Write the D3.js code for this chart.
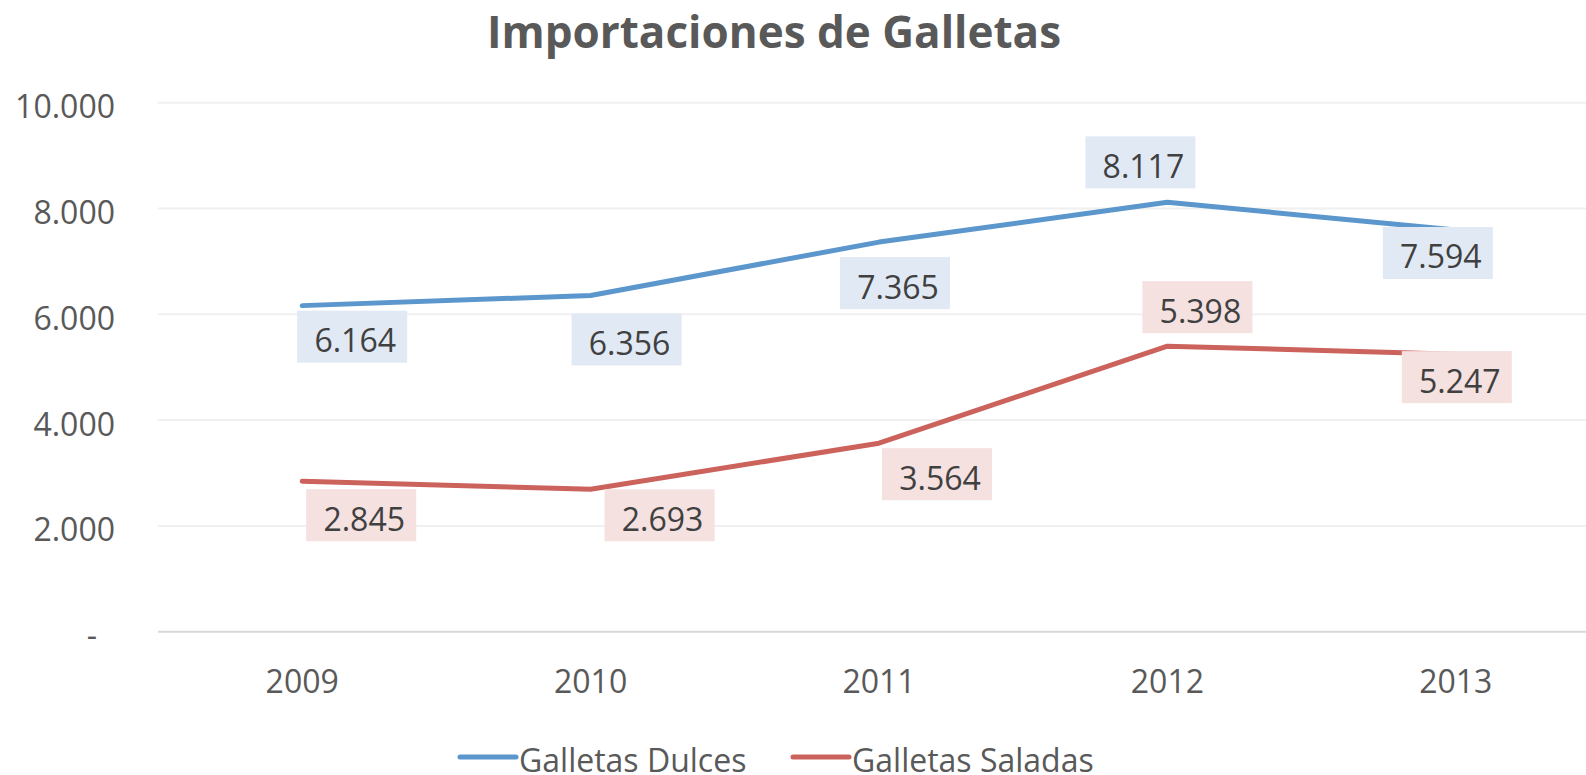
<!DOCTYPE html>
<html>
<head>
<meta charset="utf-8">
<script src="https://cdn.jsdelivr.net/npm/d3@7"></script>
<style>
  body { margin: 0; background: #fff; }
  text { font-family: "Open Sans", sans-serif; }
</style>
</head>
<body>
<script>
// data
var years = ["2009", "2010", "2011", "2012", "2013"];
var dulces = [6164, 6356, 7365, 8117, 7594];
var saladas = [2845, 2693, 3564, 5398, 5247];
var yTicks = [0, 2000, 4000, 6000, 8000, 10000];
var seriesNames = ["Galletas Dulces", "Galletas Saladas"];

// label box offsets from the point (box centre dx, box top dy)
var dulcesLabelPos = [[50, 5], [36, 18], [16, 15], [-27, -66], [-18, -3]];
var saladasLabelPos = [[59, 8], [69, 0], [58, 5], [30, -65], [1, -3]];

var w = 1586, h = 775;
var plotLeft = 158, plotRight = 1600, plotTop = 102.7, plotBottom = 631.7;

var colors = ["#5B96CC", "#CC625C"];
var boxFill = ["#E1E9F4", "#F4E1E0"];

var svg = d3.select("body").append("svg").attr("width", w).attr("height", h);

var xScale = d3.scaleBand().domain(years).range([plotLeft, plotRight]);
var yScale = d3.scaleLinear().domain([0, 10000]).range([plotBottom, plotTop]);

function cx(d) { return xScale(d) + xScale.bandwidth() / 2; }

//title
svg.append("text")
  .attr("x", 774)
  .attr("y", 48)
  .attr("text-anchor", "middle")
  .style("font-size", "44px")
  .style("font-weight", "bold")
  .style("fill", "#595959")
  .text("Importaciones de Galletas");

//gridlines
svg.selectAll(".grid")
  .data(yTicks)
  .enter()
  .append("line")
  .attr("x1", plotLeft)
  .attr("x2", w)
  .attr("y1", function(d) { return yScale(d); })
  .attr("y2", function(d) { return yScale(d); })
  .style("stroke", function(d) { return d == 0 ? "#D9D9D9" : "#F0F0F0"; })
  .style("stroke-width", 2);

//Y axis
var yAxis = d3.axisLeft(yScale)
  .tickValues(yTicks)
  .tickSize(0)
  .tickPadding(0)
  .tickFormat(function(d) { return d == 0 ? "-" : d3.format(",")(d).replace(/,/g, "."); });

var gy = svg.append("g")
  .attr("transform", "translate(115,0)")
  .call(yAxis);
gy.select(".domain").remove();
gy.selectAll("text")
  .attr("x", function(d) { return d == 0 ? -18 : 0; })
  .attr("dy", "15px")
  .style("font-size", "32px")
  .style("font-family", "'Open Sans', sans-serif")
  .style("fill", "#595959");

//X axis
var xAxis = d3.axisBottom(xScale).tickSize(0).tickPadding(0);
var gx = svg.append("g")
  .attr("transform", "translate(0,693)")
  .call(xAxis);
gx.select(".domain").remove();
gx.selectAll("text")
  .attr("y", 0)
  .attr("dy", 0)
  .style("font-size", "32px")
  .style("font-family", "'Open Sans', sans-serif")
  .style("fill", "#595959");

//lines
var line = d3.line()
  .x(function(d, i) { return cx(years[i]); })
  .y(function(d) { return yScale(d); });

[dulces, saladas].forEach(function(values, s) {
  svg.append("path")
    .datum(values)
    .attr("d", line)
    .style("fill", "none")
    .style("stroke", colors[s])
    .style("stroke-width", 5)
    .style("stroke-linecap", "round")
    .style("stroke-linejoin", "round");
});

//labels
var fmt = function(v) { return d3.format(",")(v).replace(/,/g, "."); };
var boxW = 110, boxH = 52;

[[dulces, dulcesLabelPos], [saladas, saladasLabelPos]].forEach(function(pair, s) {
  var values = pair[0], pos = pair[1];
  var g = svg.append("g");
  values.forEach(function(v, i) {
    var bx = cx(years[i]) + pos[i][0] - boxW / 2;
    var by = yScale(v) + pos[i][1];
    g.append("rect")
      .attr("x", bx)
      .attr("y", by)
      .attr("width", boxW)
      .attr("height", boxH)
      .style("fill", boxFill[s]);
    g.append("text")
      .attr("x", bx + boxW / 2 + 3)
      .attr("y", by + 41.5)
      .attr("text-anchor", "middle")
      .style("font-size", "32px")
      .style("fill", "#404040")
      .text(fmt(v));
  });
});

//legend
var legendX = [460, 793];
seriesNames.forEach(function(name, s) {
  svg.append("line")
    .attr("x1", legendX[s])
    .attr("x2", legendX[s] + 56)
    .attr("y1", 757)
    .attr("y2", 757)
    .style("stroke", colors[s])
    .style("stroke-width", 5)
    .style("stroke-linecap", "round");
  svg.append("text")
    .attr("x", legendX[s] + 59)
    .attr("y", 771.5)
    .style("font-size", "32px")
    .style("fill", "#595959")
    .text(name);
});
</script>
</body>
</html>
